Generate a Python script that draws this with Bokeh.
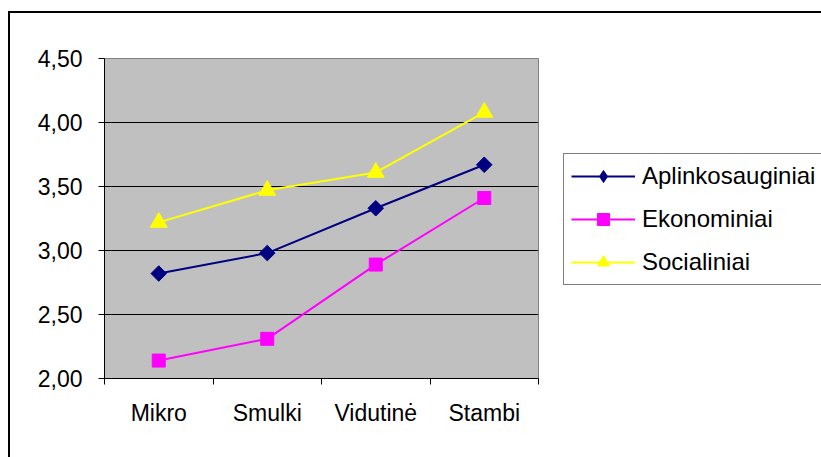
from bokeh.plotting import figure
from bokeh.models import (FixedTicker, Legend, LegendItem,
                          Range1d, ColumnDataSource)
from bokeh.embed import file_html
from bokeh.resources import INLINE

# ---- data ----
categories = ["Mikro", "Smulki", "Vidutinė", "Stambi"]
series_names = ["Aplinkosauginiai", "Ekonominiai", "Socialiniai"]
aplinkosauginiai = [2.82, 2.98, 3.33, 3.67]
ekonominiai = [2.14, 2.31, 2.89, 3.41]
socialiniai = [3.22, 3.47, 3.61, 4.08]
y_ticks = [2.0, 2.5, 3.0, 3.5, 4.0, 4.5]
y_tick_labels = ["2,00", "2,50", "3,00", "3,50", "4,00", "4,50"]

x_pos = [i + 0.5 for i in range(len(categories))]
x_bounds = [float(i) for i in range(len(categories) + 1)]

FONT = "Liberation Sans"
FS = "23px"

X0, Y0 = 10, 13          # canvas origin on the page (after CSS border)
W, H = 821 - X0, 457 - Y0
FL, FT, FW, FH = 104 - X0, 58 - Y0, 434, 320

p = figure(frame_width=FW, frame_height=FH, output_backend="svg", toolbar_location=None,
           x_range=Range1d(0, len(categories)), y_range=Range1d(y_ticks[0], y_ticks[-1]),
           min_border_left=FL, min_border_right=W - FL - FW,
           min_border_top=FT, min_border_bottom=H - FT - FH)
p.styles = {"border-left": "2px solid black", "border-top": "2px solid black",
            "margin-left": "8px", "margin-top": "11px"}
p.background_fill_color = "#C0C0C0"
p.border_fill_color = "white"
p.outline_line_color = "#808080"
p.outline_line_width = 1

# x axis
xa = p.xaxis[0]
xa.ticker = FixedTicker(ticks=x_pos, minor_ticks=x_bounds)
xa.major_label_overrides = {x: c for x, c in zip(x_pos, categories)}
xa.major_tick_out = 0
xa.major_tick_in = 0
xa.minor_tick_out = 6
xa.minor_tick_in = 0
xa.minor_tick_line_color = "black"
xa.axis_line_color = "black"
xa.major_label_standoff = 15
xa.major_label_text_font = FONT
xa.major_label_text_font_size = FS
xa.major_label_text_color = "black"

# y axis
ya = p.yaxis[0]
ya.ticker = FixedTicker(ticks=y_ticks, minor_ticks=[])
ya.major_label_overrides = {t: l for t, l in zip(y_ticks, y_tick_labels)}
ya.major_tick_out = 6
ya.major_tick_in = 0
ya.major_tick_line_color = "black"
ya.axis_line_color = "black"
ya.major_label_standoff = 16
ya.major_label_text_font = FONT
ya.major_label_text_font_size = FS
ya.major_label_text_color = "black"

p.xgrid.visible = False
p.ygrid.ticker = FixedTicker(ticks=y_ticks[1:-1])
p.ygrid.grid_line_color = "black"
p.ygrid.grid_line_width = 1

src = ColumnDataSource(dict(x=x_pos, a=aplinkosauginiai, e=ekonominiai, s=socialiniai))

la = p.line("x", "a", source=src, line_color="#000080", line_width=2)
ma = p.scatter("x", "a", source=src, marker="square", angle=0.785398, size=11,
               fill_color="#000080", line_color="#000080")
# diamond-shaped marker used only for the legend swatch
da = p.scatter("x", "a", source=src, marker="diamond", size=11,
               fill_color="#000080", line_color="#000080", visible=False)
le = p.line("x", "e", source=src, line_color="#FF00FF", line_width=2)
me = p.scatter("x", "e", source=src, marker="square", size=13,
               fill_color="#FF00FF", line_color="#FF00FF")
ls = p.line("x", "s", source=src, line_color="#FFFF00", line_width=2)
ms = p.scatter("x", "s", source=src, marker="triangle", size=17,
               fill_color="#FFFF00", line_color="#FFFF00")

legend = Legend(items=[LegendItem(label=series_names[0], renderers=[la, da]),
                       LegendItem(label=series_names[1], renderers=[le, me]),
                       LegendItem(label=series_names[2], renderers=[ls, ms])],
                location=(25, 93), padding=7, spacing=13, margin=0,
                label_height=30, glyph_height=30, glyph_width=64,
                label_standoff=7, label_width=178,
                label_text_font=FONT, label_text_font_size="24px",
                label_text_color="black",
                inactive_fill_alpha=0,
                border_line_color="black", border_line_width=1,
                background_fill_color="white", background_fill_alpha=1)
p.add_layout(legend, "right")

open("out.html", "w").write(file_html(p, INLINE))
